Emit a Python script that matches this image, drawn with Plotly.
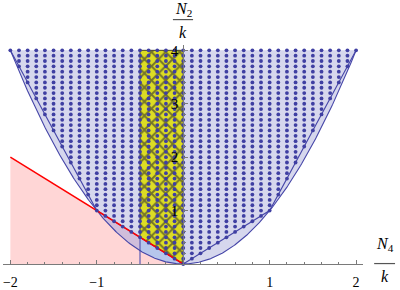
import numpy as np
import plotly.graph_objects as go

# ---- data ----
chord_x = [-2.0, -1.0, 0.0, 1.0, 2.0]      # lower boundary of the lattice region
chord_y = [4.0, 1.0, 0.0, 1.0, 4.0]
red_x = [-2.0, 0.0]                         # red boundary line
red_y = [2.0, 0.0]
strip_x = [-0.5, 0.0]                       # yellow strip edges
y_top = 4.0
lattice_step = 0.1
x_ticks = [-2, -1, 1, 2]
x_ticktext = ["\u22122", "\u22121", "1", "2"]
y_ticks = [1, 2, 3, 4]
y_ticktext = ["1", "2", "3", "4"]

# colours
c_pink = "#ffd6d6"
c_lav = "#d6d7ed"
c_purple = "#d0bedb"
c_blue = "#b6c6ec"
c_yellow = "#dcdc24"
c_curve = "#4646a8"
c_dot = "#3f3fa2"
c_axis = "#7a7a7a"
FONT = "Liberation Serif"

xs = np.linspace(-2, 2, 401)
par = xs ** 2

fig = go.Figure()

# pink triangle under the red line
fig.add_trace(go.Scatter(x=[red_x[0], red_x[0], red_x[1], red_x[0]],
                         y=[0, red_y[0], red_y[1], 0],
                         fill="toself", fillcolor=c_pink, mode="lines",
                         line=dict(width=0), hoverinfo="skip"))

# lavender region above parabola
fig.add_trace(go.Scatter(x=list(xs) + [xs[0]], y=list(par) + [par[0]],
                         fill="toself", fillcolor=c_lav, mode="lines",
                         line=dict(width=0), hoverinfo="skip"))

# overlap pink/lavender, x in [-1, -0.5]
xo = np.linspace(-1.0, strip_x[0], 60)
ro = np.interp(xo, red_x, red_y)
fig.add_trace(go.Scatter(x=list(xo) + list(xo[::-1]), y=list(xo ** 2) + list(ro[::-1]),
                         fill="toself", fillcolor=c_purple, mode="lines",
                         line=dict(width=0), hoverinfo="skip"))

# overlap in strip, x in [-0.5, 0]
xb = np.linspace(strip_x[0], strip_x[1], 60)
rb = np.interp(xb, red_x, red_y)
fig.add_trace(go.Scatter(x=list(xb) + list(xb[::-1]), y=list(xb ** 2) + list(rb[::-1]),
                         fill="toself", fillcolor=c_blue, mode="lines",
                         line=dict(width=0), hoverinfo="skip"))

# yellow hatched strip above red line
ryl = float(np.interp(strip_x[0], red_x, red_y))
ryr = float(np.interp(strip_x[1], red_x, red_y))
fig.add_trace(go.Scatter(x=[strip_x[0], strip_x[1], strip_x[1], strip_x[0], strip_x[0]],
                         y=[ryl, ryr, y_top, y_top, ryl],
                         fill="toself", fillcolor=c_yellow, mode="lines",
                         fillpattern=dict(shape="x", fgcolor="#74742a", bgcolor=c_yellow,
                                          size=10, solidity=0.35, fillmode="replace"),
                         line=dict(width=1, color="#4a4a2a"), hoverinfo="skip"))

# vertical blue line at left strip edge
fig.add_trace(go.Scatter(x=[strip_x[0], strip_x[0]], y=[0, ryl], mode="lines",
                         line=dict(width=1.2, color="#5a5ab4"), hoverinfo="skip"))

# parabola curve and chord lines
fig.add_trace(go.Scatter(x=xs, y=par, mode="lines",
                         line=dict(width=1.1, color=c_curve), hoverinfo="skip"))
fig.add_trace(go.Scatter(x=chord_x, y=chord_y, mode="lines",
                         line=dict(width=1.1, color=c_curve), hoverinfo="skip"))

# red line
fig.add_trace(go.Scatter(x=red_x, y=red_y, mode="lines",
                         line=dict(width=1.5, color="#ff0000"), hoverinfo="skip"))

# lattice points inside the chord polygon
n = int(round(2 / lattice_step))
gx = np.arange(-n, n + 1) * lattice_step
gy = np.arange(0, int(round(y_top / lattice_step)) + 1) * lattice_step
GX, GY = np.meshgrid(gx, gy)
GX = GX.ravel(); GY = GY.ravel()
low = np.interp(GX, chord_x, chord_y)
keep = GY >= low - 1e-9
fig.add_trace(go.Scatter(x=GX[keep], y=GY[keep], mode="markers",
                         marker=dict(size=3.8, color=c_dot, line=dict(width=0)),
                         hoverinfo="skip", cliponaxis=False))

fig.update_layout(
    width=400, height=290,
    margin=dict(l=3, r=37, t=45, b=26, autoexpand=False),
    plot_bgcolor="white", paper_bgcolor="white",
    showlegend=False,
    xaxis=dict(range=[-2.085, 2.08], showgrid=False, zeroline=False, automargin=False,
               showline=True, linecolor=c_axis, linewidth=1,
               ticks="inside", ticklen=4, tickcolor=c_axis, tickwidth=1,
               tickmode="array", tickvals=x_ticks, ticktext=x_ticktext,
               tickfont=dict(family=FONT, size=14, color="black"),
               ticklabelstandoff=5,
               minor=dict(tickmode="linear", tick0=0, dtick=0.2, ticks="inside",
                          ticklen=2, tickcolor=c_axis)),
    yaxis=dict(range=[0, 4.1], showgrid=False, zeroline=False, automargin=False,
               anchor="free", position=2.085 / 4.165, side="left",
               showline=True, linecolor=c_axis, linewidth=1,
               ticks="inside", ticklen=4, tickcolor=c_axis, tickwidth=1,
               tickmode="array", tickvals=y_ticks, ticktext=y_ticktext,
               tickfont=dict(family=FONT, size=15, color="black"),
               ticklabelstandoff=2,
               minor=dict(tickmode="linear", tick0=0, dtick=0.2, ticks="inside",
                          ticklen=2, tickcolor=c_axis)),
)

lab_font = dict(family=FONT, size=16, color="black")
ann = [
    dict(text="<i>N</i><sub>4</sub>", x=1.061, y=0.09),
    dict(text="<i>k</i>", x=1.061, y=-0.055),
    dict(text="<i>N</i><sub>2</sub>", x=0.5, y=1.16),
    dict(text="<i>k</i>", x=0.5, y=1.059),
]
for a in ann:
    fig.add_annotation(text=a["text"], x=a["x"], y=a["y"], xref="paper", yref="paper",
                       showarrow=False, xanchor="center", yanchor="middle", font=lab_font)
fig.add_shape(type="line", xref="paper", yref="paper", x0=1.031, x1=1.089, y0=0.002, y1=0.002,
              line=dict(color="#555", width=1.2))
fig.add_shape(type="line", xref="paper", yref="paper", x0=0.472, x1=0.528, y0=1.116, y1=1.116,
              line=dict(color="#555", width=1.2))

fig.write_html("out.html", config={"displayModeBar": False},
               post_script="document.body.style.margin='0';document.body.style.overflow='hidden';")
